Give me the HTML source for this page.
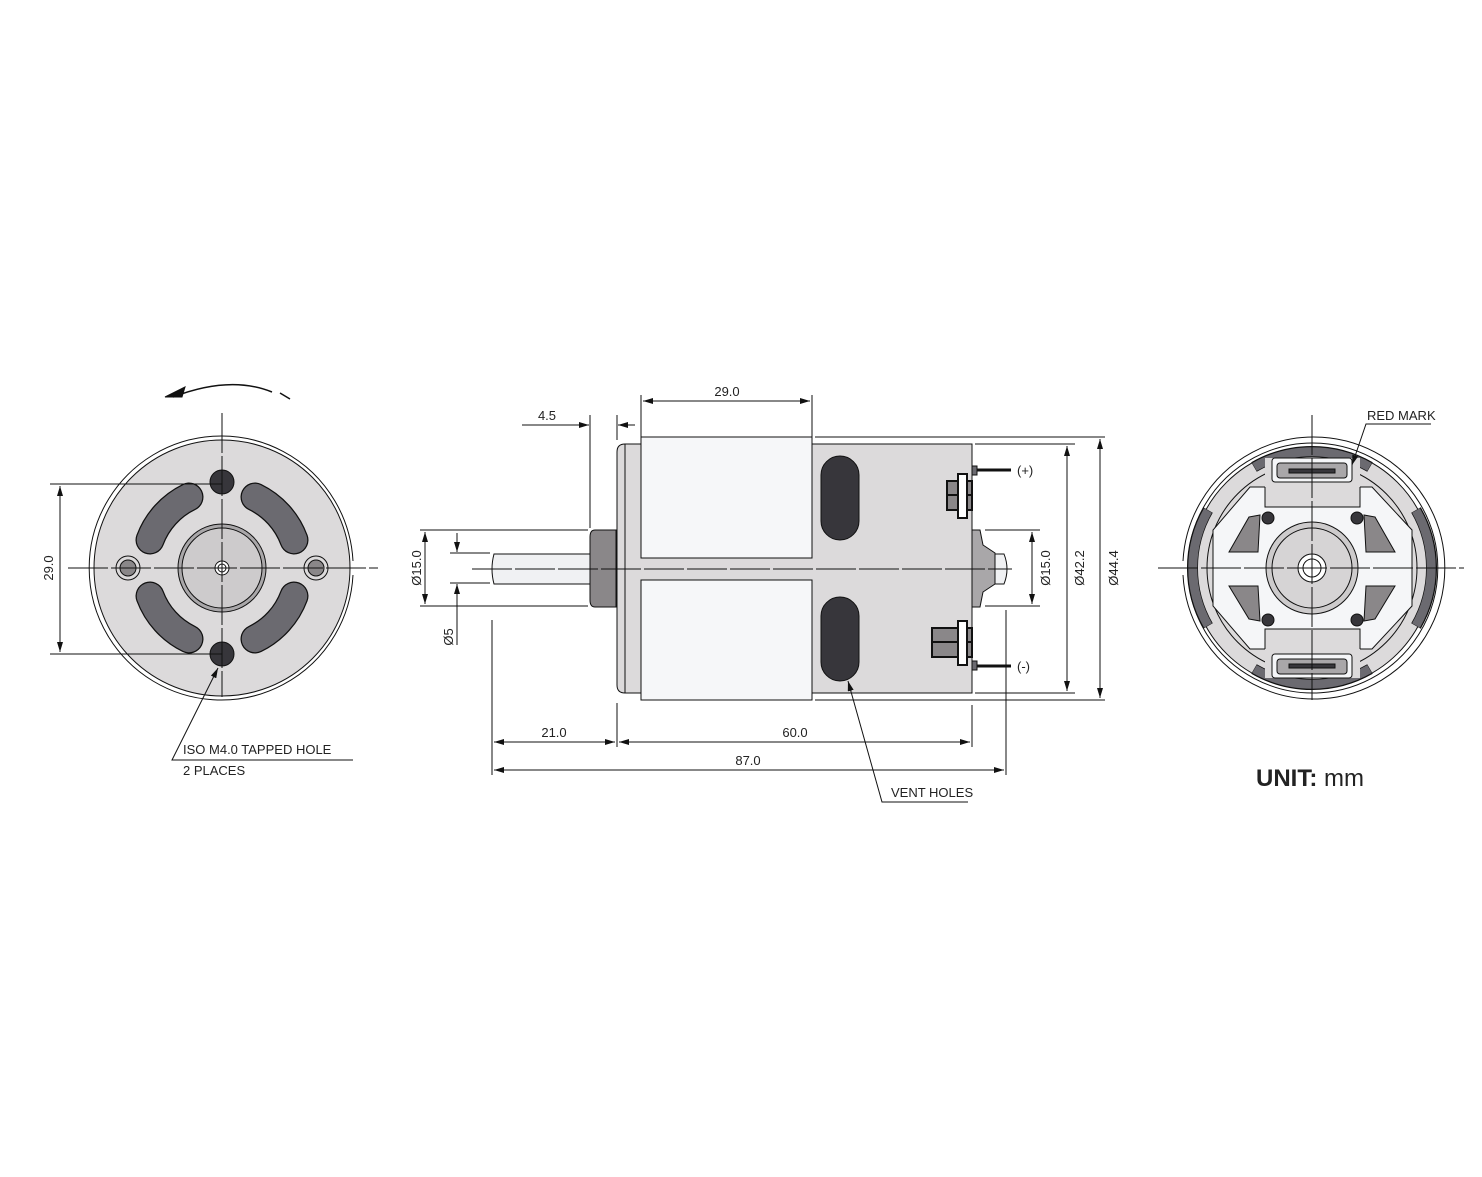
<!DOCTYPE html>
<html><head><meta charset="utf-8"><style>
html,body{margin:0;padding:0;background:#fff}
svg{display:block}
text{font-family:"Liberation Sans",sans-serif;font-size:13px;fill:#222}
</style></head><body>
<svg width="1482" height="1177" viewBox="0 0 1482 1177" xmlns="http://www.w3.org/2000/svg">
<defs>
<marker id="a" viewBox="0 0 10 6" refX="10" refY="3" markerWidth="10" markerHeight="6" orient="auto-start-reverse" markerUnits="userSpaceOnUse"><path d="M0,0 L10,3 L0,6 z" fill="#111"/></marker>
</defs>
<g stroke="#111" stroke-width="1" fill="none">

<!-- ===== LEFT VIEW ===== -->
<path d="M173,397 Q230,375 272,392" stroke-width="1.5"/>
<path d="M280,393 L290,399" stroke-width="1.5"/>
<path d="M165,397 L185,387 L182,397 z" fill="#111"/>
<path d="M353,561 A132,132 0 1 0 353,575" fill="#fff"/>
<circle cx="222" cy="568" r="128" fill="#dcdadb"/>
<g stroke-linecap="round">
<g stroke="#111" stroke-width="29">
<path d="M150,540 A78,78 0 0 1 189,497"/><path d="M255,497 A78,78 0 0 1 294,540"/>
<path d="M150,596 A78,78 0 0 0 189,639"/><path d="M255,639 A78,78 0 0 0 294,596"/>
</g>
<g stroke="#6b6a70" stroke-width="26.5">
<path d="M150,540 A78,78 0 0 1 189,497"/><path d="M255,497 A78,78 0 0 1 294,540"/>
<path d="M150,596 A78,78 0 0 0 189,639"/><path d="M255,639 A78,78 0 0 0 294,596"/>
</g>
</g>
<circle cx="222" cy="482" r="12" fill="#37363b"/>
<circle cx="222" cy="654" r="12" fill="#37363b"/>
<circle cx="128" cy="568" r="12" fill="#dcdadb"/><circle cx="128" cy="568" r="8" fill="#8a8789"/>
<circle cx="316" cy="568" r="12" fill="#dcdadb"/><circle cx="316" cy="568" r="8" fill="#8a8789"/>
<circle cx="222" cy="568" r="44" fill="#a9a7a9"/>
<circle cx="222" cy="568" r="40" fill="#cdcbcc"/>
<circle cx="222" cy="568" r="7" fill="#fff"/><circle cx="222" cy="568" r="4"/>
<path d="M68,568 H378 M222,413 V697" stroke-dasharray="40,3"/>
<path d="M50,484 H222 M50,654 H222"/>
<path d="M60,486 V652" marker-start="url(#a)" marker-end="url(#a)"/>
<path d="M218,668 L172,760 H353" marker-start="url(#a)"/>

<!-- ===== MIDDLE VIEW ===== -->
<path d="M625,444 H972 V693 H625 Q617,693 617,685 V452 Q617,444 625,444 z" fill="#dcdadb"/>
<path d="M625,444 V693"/>
<rect x="641" y="437" width="171" height="121" fill="#f6f7f9"/>
<rect x="641" y="580" width="171" height="120" fill="#f6f7f9"/>
<rect x="821" y="456" width="38" height="84" rx="19" fill="#37363b"/>
<rect x="821" y="597" width="38" height="84" rx="19" fill="#37363b"/>
<path d="M595,530 H616 V607 H595 Q590,607 590,600 V537 Q590,530 595,530 z" fill="#8a8789"/>
<path d="M494,554 H590 V584 H494 Q490,569 494,554 z" fill="#f0f1f3"/>
<path d="M972,530 H980 L983,545 L995,553 V584 L983,592 L980,607 H972 z" fill="#a9a7a9"/>
<path d="M995,554 H1004 Q1010,569 1004,584 H995 z" fill="#f0f1f3"/>
<rect x="972" y="466" width="5" height="9" fill="#6b6a70"/>
<path d="M977,470 H1011" stroke-width="3"/>
<rect x="972" y="661" width="5" height="9" fill="#6b6a70"/>
<path d="M977,666 H1011" stroke-width="3"/>
<rect x="947" y="481" width="25" height="29" fill="#8a8789" stroke-width="2"/>
<path d="M947,495 H972" stroke-width="2"/>
<rect x="958" y="474" width="9" height="44" fill="#fff" stroke-width="2"/>
<rect x="932" y="628" width="40" height="29" fill="#8a8789" stroke-width="2"/>
<path d="M932,642 H972" stroke-width="2"/>
<rect x="958" y="621" width="9" height="44" fill="#fff" stroke-width="2"/>
<path d="M472,569 H1012" stroke-dasharray="40,3"/>
<path d="M641,395 V437 M812,395 V437"/>
<path d="M643,401 H810" marker-start="url(#a)" marker-end="url(#a)"/>
<path d="M590,415 V528 M617,415 V440"/>
<path d="M522,425 H589" marker-end="url(#a)"/>
<path d="M635,425 H618" marker-end="url(#a)"/>
<path d="M420,530 H588 M420,606 H588 M450,553 H490 M450,583 H490"/>
<path d="M425,532 V604" marker-start="url(#a)" marker-end="url(#a)"/>
<path d="M457,533 V552" marker-end="url(#a)"/>
<path d="M457,645 V584" marker-end="url(#a)"/>
<path d="M985,530 H1040 M985,606 H1040 M975,444 H1075 M975,693 H1075 M815,437 H1105 M815,700 H1105"/>
<path d="M1032,532 V604" marker-start="url(#a)" marker-end="url(#a)"/>
<path d="M1067,446 V691" marker-start="url(#a)" marker-end="url(#a)"/>
<path d="M1100,439 V698" marker-start="url(#a)" marker-end="url(#a)"/>
<path d="M492,620 V775 M617,703 V747 M972,705 V747 M1006,610 V775"/>
<path d="M494,742 H615" marker-start="url(#a)" marker-end="url(#a)"/>
<path d="M619,742 H970" marker-start="url(#a)" marker-end="url(#a)"/>
<path d="M494,770 H1004" marker-start="url(#a)" marker-end="url(#a)"/>
<path d="M848,681 L882,802 H968" marker-start="url(#a)"/>

<!-- ===== RIGHT VIEW ===== -->
<path d="M1183,561 A131,131 0 1 1 1183,575" fill="#fff"/>
<path d="M1188,561 A125,125 0 1 1 1188,575" fill="#fff"/>
<circle cx="1312" cy="568" r="121" fill="#dcdadb"/>
<g stroke="#111" stroke-width="11" stroke-linecap="butt">
<path d="M1254,467 A116,116 0 0 1 1370,467"/><path d="M1254,669 A116,116 0 0 0 1370,669"/>
<path d="M1208,510 A116,116 0 0 0 1208,626"/><path d="M1416,510 A116,116 0 0 1 1416,626"/>
</g>
<g stroke="#6b6a70" stroke-width="9" stroke-linecap="butt">
<path d="M1254.5,467 A116,116 0 0 1 1369.5,467"/><path d="M1254.5,669 A116,116 0 0 0 1369.5,669"/>
<path d="M1208,510.5 A116,116 0 0 0 1208,625.5"/><path d="M1416,510.5 A116,116 0 0 1 1416,625.5"/>
</g>
<circle cx="1312" cy="568" r="105" fill="none"/>
<path d="M1250,487 H1265 V507 H1360 V487 H1372 L1412,530 V606 L1372,649 H1360 V629 H1265 V649 H1250 L1213,606 V530 z" fill="#f5f6f8"/>
<rect x="1265" y="458" width="95" height="49" fill="#dcdadb" stroke="none"/>
<rect x="1265" y="629" width="95" height="49" fill="#dcdadb" stroke="none"/>
<path d="M1265,487 V507 H1360 V487 M1265,649 V629 H1360 V649"/>
<rect x="1272" y="458" width="80" height="24" rx="3" fill="#f5f6f8"/>
<rect x="1277" y="463" width="70" height="15" rx="3" fill="#a9a7a9"/>
<rect x="1289" y="469" width="46" height="4" fill="#37363b"/>
<rect x="1272" y="654" width="80" height="24" rx="3" fill="#f5f6f8"/>
<rect x="1277" y="659" width="70" height="15" rx="3" fill="#a9a7a9"/>
<rect x="1289" y="664" width="46" height="4" fill="#37363b"/>
<path d="M1249,517 L1260,515 L1258,552 L1229,552 z" fill="#8a8789"/>
<path d="M1375,517 L1364,515 L1366,552 L1395,552 z" fill="#8a8789"/>
<path d="M1249,619 L1260,621 L1258,586 L1229,586 z" fill="#8a8789"/>
<path d="M1375,619 L1364,621 L1366,586 L1395,586 z" fill="#8a8789"/>
<circle cx="1268" cy="518" r="6" fill="#37363b"/><circle cx="1357" cy="518" r="6" fill="#37363b"/>
<circle cx="1268" cy="620" r="6" fill="#37363b"/><circle cx="1357" cy="620" r="6" fill="#37363b"/>
<circle cx="1312" cy="568" r="46" fill="#cdcbcc"/>
<circle cx="1312" cy="568" r="40" fill="#d6d4d5"/>
<circle cx="1312" cy="568" r="14" fill="#fff"/>
<circle cx="1312" cy="568" r="9" fill="#fff"/>
<path d="M1158,568 H1464 M1312,415 V700" stroke-dasharray="40,3"/>
<path d="M1352,465 L1366,424 H1431" marker-start="url(#a)"/>
</g>

<text x="53" y="568" transform="rotate(-90 53 568)" text-anchor="middle">29.0</text>
<text x="183" y="754">ISO M4.0 TAPPED HOLE</text>
<text x="183" y="775">2 PLACES</text>
<text x="727" y="396" text-anchor="middle">29.0</text>
<text x="547" y="420" text-anchor="middle">4.5</text>
<text x="421" y="568" transform="rotate(-90 421 568)" text-anchor="middle">Ø15.0</text>
<text x="453" y="637" transform="rotate(-90 453 637)" text-anchor="middle">Ø5</text>
<text x="1050" y="568" transform="rotate(-90 1050 568)" text-anchor="middle">Ø15.0</text>
<text x="1084" y="568" transform="rotate(-90 1084 568)" text-anchor="middle">Ø42.2</text>
<text x="1118" y="568" transform="rotate(-90 1118 568)" text-anchor="middle">Ø44.4</text>
<text x="1017" y="475">(+)</text>
<text x="1017" y="671">(-)</text>
<text x="554" y="737" text-anchor="middle">21.0</text>
<text x="795" y="737" text-anchor="middle">60.0</text>
<text x="748" y="765" text-anchor="middle">87.0</text>
<text x="891" y="797">VENT HOLES</text>
<text x="1367" y="420">RED MARK</text>
<text x="1256" y="786" style="font-size:24px"><tspan font-weight="bold">UNIT:</tspan> mm</text>
</svg>
</body></html>
